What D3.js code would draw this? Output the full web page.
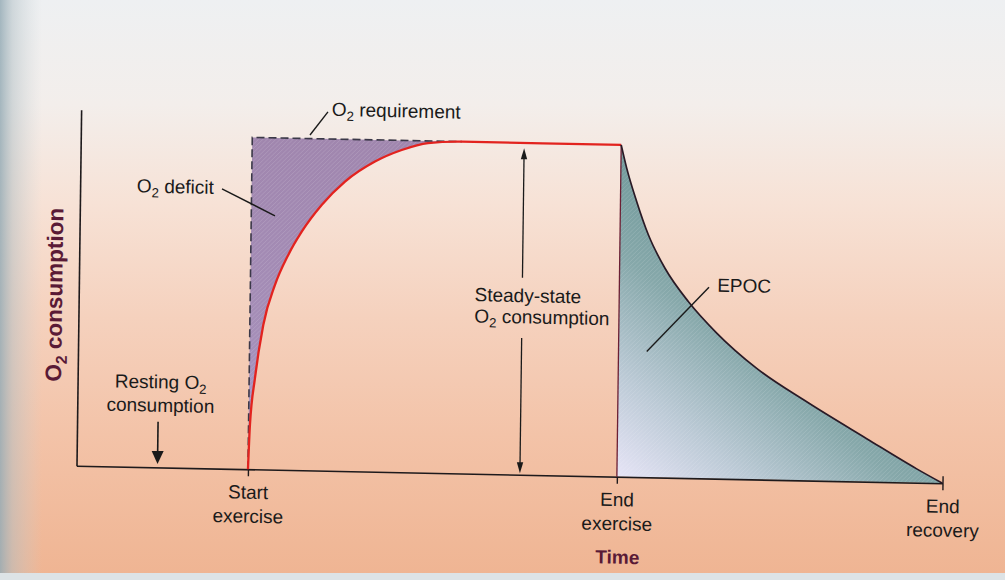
<!DOCTYPE html>
<html>
<head>
<meta charset="utf-8">
<script src="https://cdn.jsdelivr.net/npm/d3@7"></script>
<style>
  html, body { margin: 0; padding: 0; background: #f3dccd; }
  svg { display: block; }
</style>
</head>
<body>
<div id="chart"></div>
<script>
// ---------------- data (arbitrary units: time 0..100, O2 0..100) ----------------
const phaseTimes  = [19.8, 62.4, 100];
const phaseLabels = [["Start", "exercise"], ["End", "exercise"], ["End", "recovery"]];
const steadyState = 93.2;
const restingO2   = 0;

// O2 consumption rising after start of exercise
const onsetTime = [19.8, 19.96, 20.47, 21.35, 22.64, 24.13, 25.65, 27.91, 30.57, 34.0, 37.07, 40.1, 44.0];
const onsetO2   = [0,    12.4,  25.6,  40.6,  51.9,  60.4,  67.0,  74.6,  81.3,  87.1, 90.5,  92.6, 93.2];

// O2 consumption during recovery (EPOC)
const recoveryTime = [62.4, 63.07, 64.27, 65.67, 67.64, 70.38, 73.71, 78.38, 84.2, 91.18, 97.0, 100];
const recoveryO2   = [93.2, 86.7,  77.4,  68.1,  58.8,  49.6,  40.9,  31.2,  22.1, 12.1,  3.9,  0];

// O2 requirement (dashed) ends where it meets the curve
const requirementEnd = 44.0;

// annotation anchors in data units
const labelTexts = ["O2 requirement", "O2 deficit", "Steady-state|O2 consumption", "Resting O2|consumption", "EPOC"];
const labelX = [28.94, 6.54, 45.7, 9.6, 73.7];
const labelY = [99.7, 77.1, 48.5, 22.2, 52.5];
const leaderFrom = [[26.46, 94.2], [16.38, 78.6], [72.75, 53.7]];
const leaderTo   = [[28.5, 100.8], [22.54, 71.3], [65.66, 35.3]];
const steadyArrowX = 51.2;
const steadyArrowSegs = [[0.4, 38.4], [55.3, 91.7]];
const restArrowX = 9.35;
const restArrowSpan = [12.8, 0.94];

const axisTitleX = "Time";
const axisTitleY = "O2 consumption";

// ---------------- layout ----------------
const W = 1005, H = 580;
const plotW = 866, plotH = 356;
const FONT = "'Liberation Sans', Arial, Helvetica, sans-serif";

const svg = d3.select("#chart").append("svg").attr("width", W).attr("height", H);
const defs = svg.append("defs");

// background (scanned page look)
const bg = defs.append("linearGradient").attr("id", "bg").attr("x1", 0).attr("y1", 0).attr("x2", 0).attr("y2", 1);
[[0, "#eef0f2"], [0.18, "#f3eeeb"], [0.35, "#f7e2d6"], [0.55, "#f5d1bd"], [0.75, "#f3c3a8"], [1, "#efb492"]]
  .forEach(([o, c]) => bg.append("stop").attr("offset", o).attr("stop-color", c));
const ls = defs.append("linearGradient").attr("id", "lshade").attr("x1", 0).attr("y1", 0).attr("x2", 1).attr("y2", 0);
[[0, "rgba(150,172,182,0.85)"], [0.3, "rgba(175,190,196,0.5)"], [1, "rgba(200,210,214,0)"]]
  .forEach(([o, c]) => ls.append("stop").attr("offset", o).attr("stop-color", c));

// fills
const dg = defs.append("linearGradient").attr("id", "defGrad").attr("x1", 0).attr("y1", 0).attr("x2", 0).attr("y2", 1);
[[0, "#a086ae"], [0.6, "#a58eb8"], [1, "#a39ccc"]]
  .forEach(([o, c]) => dg.append("stop").attr("offset", o).attr("stop-color", c));
const eg = defs.append("linearGradient").attr("id", "epocGrad").attr("x1", 0).attr("y1", 1).attr("x2", 0.5).attr("y2", 0.35);
[[0, "#e6e4f6"], [0.3, "#bccad6"], [0.65, "#86a8aa"], [1, "#6f9899"]]
  .forEach(([o, c]) => eg.append("stop").attr("offset", o).attr("stop-color", c));
const hatch = defs.append("pattern").attr("id", "hatch").attr("patternUnits", "userSpaceOnUse")
  .attr("width", 3).attr("height", 3).attr("patternTransform", "rotate(45)");
hatch.append("line").attr("x1", 0).attr("y1", 0).attr("x2", 0).attr("y2", 3)
  .attr("stroke", "#ffffff").attr("stroke-width", 1).attr("stroke-opacity", 0.18);

svg.append("rect").attr("width", W).attr("height", H).attr("fill", "url(#bg)");
svg.append("rect").attr("width", 42).attr("height", H).attr("fill", "url(#lshade)");
svg.append("rect").attr("y", 573).attr("width", W).attr("height", 7).attr("fill", "#dde3e6");

// slightly skewed frame like the scanned page
const g = svg.append("g").attr("transform", "matrix(1,0.0203,-0.013,1,76.5,465.7)");

const x = d3.scaleLinear().domain([0, 100]).range([0, plotW]);
const y = d3.scaleLinear().domain([0, 100]).range([0, -plotH]);

const onset = onsetTime.map((t, i) => [t, onsetO2[i]]);
const recovery = recoveryTime.map((t, i) => [t, recoveryO2[i]]);

// O2 deficit area
const defArea = d3.area().x(d => x(d[0])).y0(d => y(d[1])).y1(y(steadyState)).curve(d3.curveMonotoneX);
g.append("path").datum(onset).attr("d", defArea).attr("fill", "url(#defGrad)");
g.append("path").datum(onset).attr("d", defArea).attr("fill", "url(#hatch)");

// EPOC area
const epocArea = d3.area().x(d => x(d[0])).y0(y(restingO2)).y1(d => y(d[1])).curve(d3.curveMonotoneX);
g.append("path").datum(recovery).attr("d", epocArea).attr("fill", "url(#epocGrad)");
g.append("path").datum(recovery).attr("d", epocArea).attr("fill", "url(#hatch)");

// O2 requirement dashed
const lin = d3.line().x(d => x(d[0])).y(d => y(d[1]));
g.append("path")
  .datum([[phaseTimes[0], restingO2], [phaseTimes[0], steadyState], [requirementEnd, steadyState]])
  .attr("d", lin).attr("fill", "none").attr("stroke", "#3b3848").attr("stroke-width", 1.6)
  .attr("stroke-dasharray", "8,4");

// axes
const xAxis = d3.axisBottom(x).tickValues(phaseTimes).tickSize(7).tickSizeOuter(0).tickFormat("");
const xa = g.append("g").call(xAxis);
xa.select(".domain").attr("stroke", "#1e1a1c").attr("stroke-width", 1.6);
xa.selectAll(".tick line").attr("stroke", "#1e1a1c").attr("stroke-width", 1.4);
xa.selectAll(".tick").filter(d => d === phaseTimes[2]).select("line").attr("y1", -7);
xa.selectAll(".tick").each(function(d, i) {
  const t = d3.select(this).append("text").attr("fill", "#1a1a1a").attr("font-family", FONT)
    .attr("font-size", 19).attr("text-anchor", "middle");
  phaseLabels[i].forEach((s, j) => t.append("tspan").attr("x", 0).attr("y", 29.5 + j * 24).text(s));
});

const yAxis = d3.axisLeft(y).tickValues([]).tickSizeOuter(0);
const ya = g.append("g").call(yAxis);
ya.select(".domain").attr("stroke", "#1e1a1c").attr("stroke-width", 1.6);

// curves
g.append("path").datum(onset.concat([[phaseTimes[1], steadyState]]))
  .attr("d", d3.line().x(d => x(d[0])).y(d => y(d[1])).curve(d3.curveMonotoneX))
  .attr("fill", "none").attr("stroke", "#e2231f").attr("stroke-width", 2.3);
g.append("path").datum([[phaseTimes[1], restingO2], [phaseTimes[1], steadyState]])
  .attr("d", lin).attr("fill", "none").attr("stroke", "#6b1f34").attr("stroke-width", 1.3);
g.append("path").datum(recovery)
  .attr("d", d3.line().x(d => x(d[0])).y(d => y(d[1])).curve(d3.curveMonotoneX))
  .attr("fill", "none").attr("stroke", "#2a1a26").attr("stroke-width", 1.7);

// rich text helper (subscript "2" after "O")
function rich(sel, str, size) {
  const parts = str.split(/(?<=O)(2)/);
  let sub = false;
  parts.forEach(p => {
    if (p === "") return;
    const t = sel.append("tspan").text(p);
    if (p === "2") { t.attr("font-size", size * 0.7).attr("dy", size * 0.24); sub = true; }
    else if (sub) { t.attr("dy", -size * 0.24); sub = false; }
  });
}

// annotation labels
const lineGap = [0, 0, 21.3, 23.4, 0];
const anchors = ["start", "start", "start", "middle", "start"];
labelTexts.forEach((txt, i) => {
  txt.split("|").forEach((line, j) => {
    const t = g.append("text").attr("x", x(labelX[i])).attr("y", y(labelY[i]) + j * lineGap[i])
      .attr("font-family", FONT).attr("font-size", 19).attr("fill", "#1a1a1a")
      .attr("text-anchor", anchors[i]);
    rich(t, line, 19);
  });
});

// leader lines
leaderFrom.forEach((p, i) => {
  g.append("line").attr("x1", x(p[0])).attr("y1", y(p[1]))
    .attr("x2", x(leaderTo[i][0])).attr("y2", y(leaderTo[i][1]))
    .attr("stroke", "#1a1a1a").attr("stroke-width", 1.4);
});

// steady-state double arrow
const sx = x(steadyArrowX);
g.append("line").attr("x1", sx).attr("x2", sx).attr("y1", y(steadyArrowSegs[0][0]) - 10).attr("y2", y(steadyArrowSegs[0][1]))
  .attr("stroke", "#1a1a1a").attr("stroke-width", 1.3);
g.append("line").attr("x1", sx).attr("x2", sx).attr("y1", y(steadyArrowSegs[1][0])).attr("y2", y(steadyArrowSegs[1][1]) + 10)
  .attr("stroke", "#1a1a1a").attr("stroke-width", 1.3);
const bt = y(steadyArrowSegs[0][0]), tt = y(steadyArrowSegs[1][1]);
g.append("path").attr("d", `M${sx},${bt}L${sx - 3.2},${bt - 11}L${sx + 3.2},${bt - 11}Z`).attr("fill", "#1a1a1a");
g.append("path").attr("d", `M${sx},${tt}L${sx - 3.2},${tt + 11}L${sx + 3.2},${tt + 11}Z`).attr("fill", "#1a1a1a");

// resting arrow
const rx = x(restArrowX), rTop = y(restArrowSpan[0]), rTip = y(restArrowSpan[1]);
g.append("line").attr("x1", rx).attr("x2", rx).attr("y1", rTop).attr("y2", rTip - 10)
  .attr("stroke", "#1a1a1a").attr("stroke-width", 1.6);
g.append("path").attr("d", `M${rx},${rTip}L${rx - 6},${rTip - 13}L${rx + 6},${rTip - 13}Z`).attr("fill", "#1a1a1a");

// axis titles
g.append("text").attr("x", x(phaseTimes[1]) + 1.5).attr("y", 87).attr("text-anchor", "middle")
  .attr("font-family", FONT).attr("font-weight", "bold").attr("font-size", 19).attr("fill", "#5a1a36")
  .text(axisTitleX);
const yt = g.append("text").attr("transform", `translate(-16.5,${y(47.9)}) rotate(-90)`)
  .attr("text-anchor", "middle").attr("font-family", FONT).attr("font-weight", "bold")
  .attr("font-size", 22.5).attr("fill", "#5a1a36");
rich(yt, axisTitleY, 22.5);
</script>
</body>
</html>
